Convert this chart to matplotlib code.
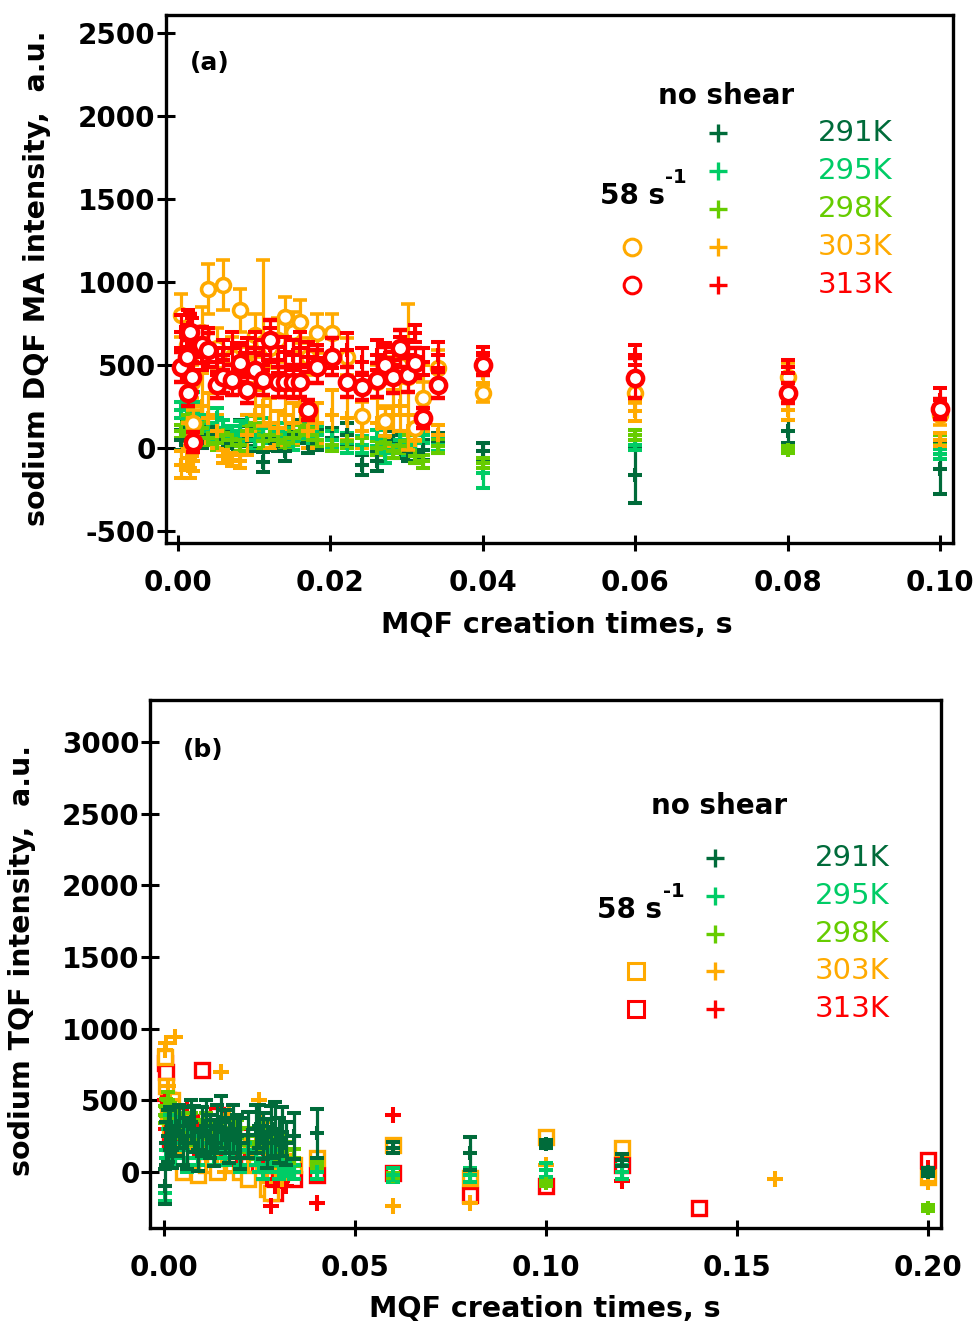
"""Sodium DQF / TQF intensity vs MQF creation time, sheared vs no shear."""

import numpy as np
import matplotlib as mpl

mpl.use("Agg")
mpl.rcParams.update({"font.family": "DejaVu Sans", "font.size": 18})
import matplotlib.pyplot as plt

nan = np.nan

# Colours
DKGREEN = "#006B3A"
GREEN = "#00CC66"
LIME = "#66CC00"
ORANGE = "#FFAA00"
RED = "#FF0000"

temps = ["291K", "295K", "298K", "303K", "313K"]
temp_colors = [DKGREEN, GREEN, LIME, ORANGE, RED]

# ---------------- panel (a): DQF MA ----------------
t_a = [0.0004, 0.0012, 0.0013, 0.0016, 0.0018, 0.0020, 0.0031, 0.0039, 0.0051, 0.0059,
       0.0071, 0.0081, 0.0091, 0.0101, 0.0112, 0.0121, 0.0131, 0.0140, 0.0151, 0.0160,
       0.0171, 0.0182, 0.0202, 0.0222, 0.0241, 0.0261, 0.0272, 0.0282, 0.0291, 0.0302,
       0.0311, 0.0322, 0.0341, 0.040, 0.060, 0.080, 0.100]

a_291 = [50, 100, 80, 120, 150, 100, 60, 80, 120, 50, 30, 100, 70, 40, -85, 60, 40, -20, 80, 100,
         30, 50, 60, 80, -100, -80, -30, 40, 10, -20, -30, -10, 30, -20, -165, 100, -125]
a_291_err = [60, 60, 70, 60, 60, 70, 60, 60, 70, 60, 60, 70, 60, 60, 60, 70, 60, 60, 60, 70,
             60, 60, 60, 70, 60, 60, 60, 60, 70, 60, 60, 60, 60, 50, 165, 70, 150]
a_295 = [230, 250, 180, 200, 150, 280, 200, 100, 180, 120, 80, 100, 150, 50, 120, 80, 100, 60, 40, 100,
         60, 80, 50, 30, 20, 60, -30, -10, 50, 20, 30, 80, 20, -150, 20, -10, -35]
a_295_err = [50, 50, 60, 50, 50, 60, 50, 50, 60, 50, 50, 60, 50, 50, 60, 50, 50, 60, 50, 50,
             60, 50, 50, 60, 50, 50, 60, 50, 50, 60, 50, 50, 40, 90, 30, 15, 30]
a_298 = [100, 150, 200, 80, 50, 100, 120, 60, 30, 80, 50, 20, 100, 150, 40, 80, 50, 30, 60, 100,
         80, 50, 20, 40, 60, 0, 30, -20, 10, 40, -50, -80, 10, -90, 80, -10, 50]
a_298_err = [40] * 33 + [30, 30, 20, 30]
a_303 = [-100, -60, 150, -120, 50, -80, 250, 180, 100, -50, -70, -80, 80, 200, 250, 150, 120, 200, 150, 250,
         100, 150, 200, 180, 100, 150, 120, 200, 250, 100, 50, 300, 80, 450, 220, 230, 50]
a_303_err = [80, 70, 150, 60, 100, 60, 200, 150, 100, 40, 40, 40, 120, 150, 200, 150, 100, 150, 120, 150,
             100, 120, 150, 130, 100, 150, 120, 150, 150, 100, 80, 200, 60, 60, 60, 60, 40]
a_313 = [700, 650, 720, 600, 680, 550, 560, 620, 520, 560, 600, 540, 570, 600, 560, 620, 530, 580, 560, 600,
         550, 540, 570, 590, 520, 560, 540, 500, 580, 560, 690, 520, 560, 570, 560, 490, 290]
a_313_err = [100, 90, 110, 90, 100, 80, 90, 100, 80, 90, 100, 90, 90, 100, 90, 100, 80, 90, 90, 100,
             90, 80, 90, 100, 80, 90, 90, 80, 90, 90, 50, 80, 80, 40, 60, 40, 70]
a_303_sh = [800, 620, 450, 560, 400, 150, 700, 960, 600, 980, 550, 830, 500, 680, 630, 600, 650, 790, 700, 760,
            550, 690, 690, 550, 190, 400, 160, 450, 500, 430, 120, 300, 480, 330, 330, 430, 200]
a_303_sh_err = [130, 120, 100, 120, 100, 80, 150, 150, 120, 150, 120, 130, 110, 130, 500, 120, 130, 120, 120, 130,
                110, 120, 120, 110, 90, 100, 90, 100, 110, 440, 80, 100, 110, 50, 60, 80, 60]
a_313_sh = [490, 550, 330, 700, 430, 35, 620, 590, 380, 430, 410, 510, 350, 470, 410, 650, 400, 400, 400, 400,
            230, 490, 550, 400, 370, 410, 500, 430, 600, 440, 510, 180, 380, 500, 420, 330, 235]
a_313_sh_err = [90, 100, 80, 110, 90, 60, 110, 100, 80, 100, 90, 110, 80, 100, 90, 120, 90, 90, 100, 90,
                60, 100, 110, 90, 80, 100, 110, 100, 110, 100, 90, 60, 80, 60, 120, 60, 60]

# ---------------- panel (b): TQF ----------------
t_b = [0.0002, 0.0005, 0.001, 0.0015, 0.002, 0.003, 0.004, 0.005, 0.006, 0.007,
       0.008, 0.009, 0.010, 0.011, 0.012, 0.013, 0.014, 0.015, 0.016, 0.017,
       0.018, 0.019, 0.020, 0.022, 0.024, 0.025, 0.026, 0.027, 0.028, 0.029,
       0.030, 0.031, 0.032, 0.034, 0.040, 0.060, 0.080, 0.100, 0.120, 0.140, 0.160, 0.200]

b_291 = [-100, 200, 250, 300, 150, 280, 320, 250, 200, 350, 300, 150, 280, 320, 250, 200, 300, 350, 280, 220,
         300, 250, 200, 260, 300, 320, 250, 200, 280, 300, 220, 280, 200, 250, 270, 170, 130, 195, 85, nan, nan, 0]
b_291_err = [120, 150, 180, 150, 120, 170, 150, 200, 180, 150, 160, 140, 170, 180, 150, 160, 170, 180, 150, 160,
             170, 150, 180, 160, 170, 150, 160, 170, 180, 190, 160, 170, 150, 160, 170, 40, 115, 30, 40, nan, nan, 30]
b_295 = [-150, 150, 300, 400, 250, 100, 350, 200, 50, 300, 250, 100, 200, 300, 150, 100, 250, 200, 100, 250,
         150, 200, 50, 150, 100, 50, 0, 50, 100, 150, 0, 50, 20, 0, 0, -20, -20, 15, 0, nan, nan, 0]
b_295_err = [50] * 39 + [nan, nan, 20]
b_298 = [400, 450, 500, 420, 300, 350, 400, 300, 250, 350, 300, 200, 300, 350, 250, 300, 200, 250, 300, 200,
         250, 300, 200, 250, 150, 200, 300, 250, 200, 150, 100, 200, 150, 100, 50, -25, nan, -80, nan, nan, nan, -250]
b_298_err = [60] * 34 + [20] * 8
b_303 = [850, 900, 600, 500, 350, 940, 150, 300, 200, 200, 250, 100, 200, 50, 300, 150, 100, 700, 0, 400,
         300, 200, 100, 50, 200, 500, 350, 0, 100, 50, 200, -50, 100, 0, 50, -240, -215, 50, nan, nan, -50, -70]
b_313 = [500, 300, 600, 200, 400, 100, 250, 300, 450, 200, 150, 350, 300, 100, 250, 200, 300, 150, 50, 250,
         200, 100, 300, 200, 150, 50, 100, -50, -240, -100, 0, -60, -100, 50, -215, 400, nan, nan, -60, nan, nan, 30]
b_303_sh = [800, 600, 400, 300, 500, 200, 100, 0, 150, 350, 100, -20, 300, 50, 200, 100, 0, 250, 150, 100,
            50, 200, 0, -50, 100, 150, 50, -120, -150, 100, 50, 0, 80, 50, 100, 190, -45, 245, 165, nan, nan, -35]
b_313_sh = [760, 700, 500, 200, 300, 100, 400, 250, 150, 200, 300, 200, 710, 100, 250, 150, 400, 200, 300, 100,
            250, 150, 200, 50, 100, 0, 150, 50, -100, -150, 0, 50, 0, -50, -20, -5, -160, -100, 50, -250, nan, 85]

a_yticks = [-500, 0, 500, 1000, 1500, 2000, 2500]
a_xticks = [0.00, 0.02, 0.04, 0.06, 0.08, 0.10]
b_yticks = [0, 500, 1000, 1500, 2000, 2500, 3000]
b_xticks = [0.00, 0.05, 0.10, 0.15, 0.20]

LW = 2.3
MS = 10
TICKFS = 20
LABELFS = 20.5


def cross_series(ax, t, y, err, color, z):
    ax.errorbar(t, y, yerr=err, fmt="+", color=color, ms=MS, mew=LW + 0.6,
                elinewidth=LW, capsize=5, capthick=LW, zorder=z)


def style_axes(ax, xticks, yticks):
    for sp in ax.spines.values():
        sp.set_linewidth(2.4)
    ax.set_xticks(xticks)
    ax.set_yticks(yticks)
    ax.set_xticklabels([f"{v:.2f}" for v in xticks], fontweight="bold")
    ax.set_yticklabels([str(v) for v in yticks], fontweight="bold")
    ax.tick_params(axis="y", direction="inout", length=13, width=2.2, pad=1, labelsize=TICKFS)
    ax.tick_params(axis="x", direction="inout", length=12, width=2.2, pad=13, labelsize=TICKFS)


def legend_block(ax, x_lab, y_title, x_cross, rows, x_open, marker, sup_xy):
    ax.text(x_lab[1], y_title, "no shear", transform=ax.transAxes, fontsize=20,
            fontweight="bold", ha="center", va="center")
    for yy, name, col in zip(rows, temps, temp_colors):
        ax.plot([x_cross], [yy], "+", color=col, ms=13, mew=2.4, transform=ax.transAxes,
                clip_on=False)
        ax.text(x_lab[0], yy, name, color=col, transform=ax.transAxes, fontsize=21,
                ha="left", va="center")
    for yy, col in zip(rows[3:], temp_colors[3:]):
        ax.plot([x_open], [yy], marker, color=col, mfc="none", ms=12, mew=2.2,
                transform=ax.transAxes, clip_on=False)
    ax.text(sup_xy[0], sup_xy[1], "58 s", transform=ax.transAxes, fontsize=20,
            fontweight="bold", ha="left", va="center")
    ax.text(sup_xy[0] + 0.083, sup_xy[1] + 0.035, "-1", transform=ax.transAxes, fontsize=14,
            fontweight="bold", ha="left", va="center")


def main():
    fig = plt.figure(figsize=(9.75, 13.24), dpi=100, facecolor="white")

    # ---------- (a) ----------
    ax = fig.add_axes([0.1703, 0.5899, 0.8071, 0.3988])
    ax.set_xlim(-0.00157, 0.1017)
    ax.set_ylim(-572, 2608)
    for y, e, c, z in [(a_291, a_291_err, DKGREEN, 3), (a_295, a_295_err, GREEN, 3),
                       (a_298, a_298_err, LIME, 3), (a_303, a_303_err, ORANGE, 3)]:
        cross_series(ax, t_a, y, e, c, z)
    ax.errorbar(t_a, a_303_sh, yerr=a_303_sh_err, fmt="o", color=ORANGE, mfc="white",
                ms=MS, mew=2.6, elinewidth=LW, capsize=5, capthick=LW, zorder=4)
    cross_series(ax, t_a, a_313, a_313_err, RED, 5)
    ax.errorbar(t_a, a_313_sh, yerr=a_313_sh_err, fmt="o", color=RED, mfc="white",
                ms=MS + 1, mew=3.2, elinewidth=LW, capsize=5, capthick=LW, zorder=6)
    style_axes(ax, a_xticks, a_yticks)
    ax.text(0.056, 0.909, "(a)", transform=ax.transAxes, fontsize=18, fontweight="bold",
            ha="center", va="center")
    ax.set_xlabel("MQF creation times, s", fontsize=LABELFS, fontweight="bold")
    ax.xaxis.set_label_coords(0.497, -0.128)
    ax.set_ylabel("sodium DQF MA intensity,  a.u.", fontsize=LABELFS, fontweight="bold")
    ax.yaxis.set_label_coords(-0.146, 0.502)
    legend_block(ax, (0.8285, 0.7116), 0.8466, 0.7014,
                 [0.7765, 0.7045, 0.6326, 0.5606, 0.4886], 0.592, "o", (0.5515, 0.657))

    # ---------- (b) ----------
    bx = fig.add_axes([0.1538, 0.0725, 0.8113, 0.3988])
    bx.set_xlim(-0.00366, 0.2034)
    bx.set_ylim(-391, 3293)
    bx.plot(t_b, b_313_sh, "s", color=RED, mfc="white", ms=MS, mew=2.4, ls="none", zorder=2)
    bx.plot(t_b, b_303_sh, "s", color=ORANGE, mfc="white", ms=MS, mew=2.4, ls="none", zorder=2)
    bx.plot(t_b, b_313, "+", color=RED, ms=MS + 2, mew=LW + 0.6, ls="none", zorder=3)
    bx.plot(t_b, b_303, "+", color=ORANGE, ms=MS + 2, mew=LW + 0.6, ls="none", zorder=3)
    cross_series(bx, t_b, b_298, b_298_err, LIME, 4)
    cross_series(bx, t_b, b_295, b_295_err, GREEN, 4)
    cross_series(bx, t_b, b_291, b_291_err, DKGREEN, 5)
    style_axes(bx, b_xticks, b_yticks)
    bx.text(0.067, 0.905, "(b)", transform=bx.transAxes, fontsize=18, fontweight="bold",
            ha="center", va="center")
    bx.set_xlabel("MQF creation times, s", fontsize=LABELFS, fontweight="bold")
    bx.xaxis.set_label_coords(0.499, -0.127)
    bx.set_ylabel("sodium TQF intensity,  a.u.", fontsize=LABELFS, fontweight="bold")
    bx.yaxis.set_label_coords(-0.144, 0.506)
    legend_block(bx, (0.8407, 0.7193), 0.7992, 0.7143,
                 [0.7008, 0.6288, 0.5568, 0.4867, 0.4148], 0.6144, "s", (0.5651, 0.6023))

    fig.savefig("out.png", dpi=100)
    plt.close(fig)


if __name__ == "__main__":
    main()
